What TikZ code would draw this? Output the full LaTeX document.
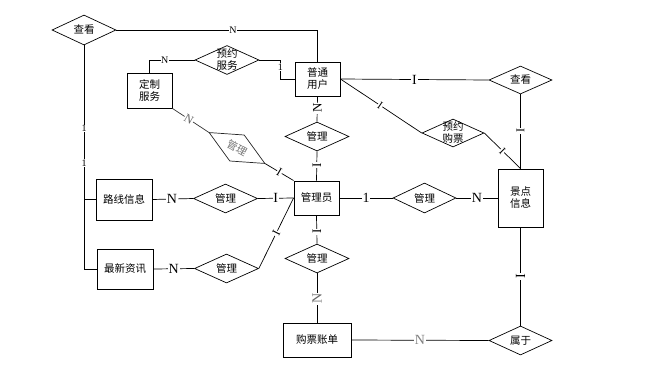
\documentclass[tikz,border=0pt]{standalone}
\usepackage{fontspec}
\setmainfont{Noto Sans CJK SC}
\newfontfamily\latinf{Liberation Serif}
\usetikzlibrary{shapes.geometric}
\begin{document}
\begin{tikzpicture}[x=1pt,y=-1pt,
 ent/.style={draw, line width=0.9pt, inner sep=0pt, align=center, font=\fontsize{10.5}{12}\selectfont},
 rel/.style={diamond, draw, line width=0.7pt, inner sep=0pt, minimum width=64pt, minimum height=29pt},
 rt/.style={align=center, inner sep=0pt, font=\fontsize{10.5}{12}\selectfont},
 ln/.style={line width=0.7pt},
 big/.style={fill=white, inner sep=0.8pt, font=\latinf\fontsize{14}{14}\selectfont},
 sml/.style={fill=white, inner sep=0.6pt, font=\latinf\fontsize{10}{10}\selectfont},
 one/.style={fill=white, inner sep=0.3pt, font=\latinf\fontsize{10}{10}\selectfont},
]
\useasboundingbox (0,0) rectangle (656,370);
% entities
\node[ent, minimum width=45pt, minimum height=34pt] (user) at (317.5,79) {普通\\用户};
\node[ent, minimum width=45pt, minimum height=35pt] (custom) at (149.5,90.5) {定制\\服务};
\node[ent, minimum width=45pt, minimum height=34pt] (admin) at (316.5,198) {管理员};
\node[ent, minimum width=45pt, minimum height=58pt] (spot) at (520.5,198) {景点\\信息};
\node[ent, minimum width=56pt, minimum height=41pt] (route) at (124,199.5) {路线信息};
\node[ent, minimum width=56pt, minimum height=40pt] (news) at (125,269) {最新资讯};
\node[ent, minimum width=68pt, minimum height=34pt] (bill) at (317,340) {购票账单};
% relations
\node[rel, minimum height=30pt, label={[rt]center:查看}] (view1) at (84,30) {};
\node[rel, label={[rt]center:预约\\服务}] (book) at (227,60) {};
\node[rel, minimum height=30pt, aspect=2.13, rotate=-29, draw=black!85, text=black!55, font=\fontsize{10.5}{12}\selectfont] (mgr1) at (237,148) {管理};
\node[rel, label={[rt]center:管理}] (mgrU) at (317,136.5) {};
\node[rel, label={[rt]center:管理}] (mgrR) at (225.5,198.5) {};
\node[rel, label={[rt]center:管理}] (mgrN) at (226.5,268.5) {};
\node[rel, minimum width=63pt, minimum height=30pt, label={[rt]center:管理}] (mgrS) at (424.5,198) {};
\node[rel, label={[rt]center:管理}] (mgrB) at (317,258.5) {};
\node[rel, minimum width=63pt, minimum height=28pt, label={[rt]center:查看}] (view2) at (520.5,80) {};
\node[rel, minimum width=62pt, minimum height=28pt, label={[rt]center:预约\\购票}] (buy) at (453,133) {};
\node[rel, minimum width=63pt, label={[rt]center:属于}] (belong) at (520.5,340.5) {};
% connectors
\draw[ln] (view1.east) -| (user.north) node[sml, pos=0.29] {N};
\draw[ln] (custom.north) |- (book.west) node[sml, pos=0.67] {N};
\draw[ln] (book.east) -- ++(21,0) |- (user.west) node[sml, pos=0.18] {1};
\draw[ln, black!80] (custom.south east) -- (mgr1.west) node[sml, pos=0.45, rotate=-30, text=black!60, font=\latinf\fontsize{12}{12}\selectfont] {N};
\draw[ln] (mgr1.east) -- (admin.north west) node[sml, pos=0.5, rotate=-30, font=\latinf\fontsize{12}{12}\selectfont] {I};
\draw[ln] (user.south) -- (mgrU.north) node[big, pos=0.46, rotate=90, font=\latinf\fontsize{13}{13}\selectfont] {N};
\draw[ln] (mgrU.south) -- (admin.north) node[big, pos=0.47, rotate=90, font=\latinf\fontsize{13}{13}\selectfont] {I};
\draw[ln] (admin.east) -- (mgrS.west) node[big, pos=0.5] {1};
\draw[ln] (mgrS.east) -- (spot.west) node[big, pos=0.5] {N};
\draw[ln] (user.east) -- (view2.west) node[big, pos=0.5] {I};
\draw[ln] (user.east) -- (buy.west) node[sml, pos=0.49, rotate=-34, font=\latinf\fontsize{11}{11}\selectfont] {I};
\draw[ln] (buy.east) -- (spot.north) node[sml, pos=0.5, rotate=-45, font=\latinf\fontsize{11}{11}\selectfont] {I};
\draw[ln] (view2.south) -- (spot.north) node[big, pos=0.49, rotate=90, font=\latinf\fontsize{12}{12}\selectfont] {I};
\draw[ln] (spot.south) -- (belong.north) node[big, pos=0.5, rotate=90] {I};
\draw[ln] (bill.east) -- (belong.west) node[big, pos=0.5, text=black!50] {N};
\draw[ln] (admin.south) -- (mgrB.north) node[big, pos=0.58, rotate=90, font=\latinf\fontsize{13}{13}\selectfont] {I};
\draw[ln] (mgrB.south) -- (bill.north) node[big, pos=0.52, rotate=90, text=black!60] {N};
\draw[ln] (route.east) -- (mgrR.west) node[big, pos=0.48] {N};
\draw[ln] (mgrR.east) -- (admin.west) node[big, pos=0.5] {I};
\draw[ln] (news.east) -- (mgrN.west) node[big, pos=0.5] {N};
\draw[ln] (mgrN.east) -- (admin.west) node[big, pos=0.5, rotate=63, font=\latinf\fontsize{12}{12}\selectfont] {I};
\draw[ln] (view1.south) |- (news.west) node[one, pos=0.185] {1} node[one, pos=0.263] {1};
\draw[ln] (route.west) -- (view1.south |- route.west);
\end{tikzpicture}
\end{document}
